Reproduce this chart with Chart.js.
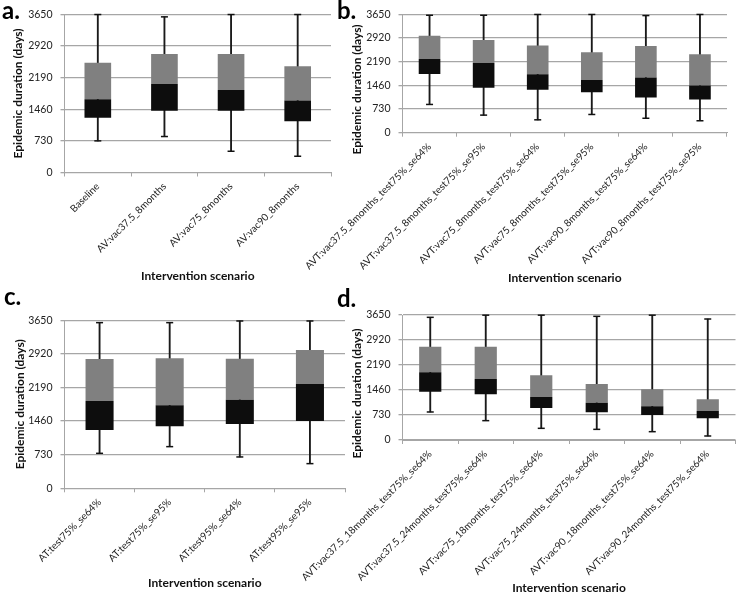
<!DOCTYPE html>
<html>
<head>
<meta charset="utf-8">
<script src="https://cdn.jsdelivr.net/npm/chart.js@4.4.0/dist/chart.umd.min.js"></script>
<style>
  body { margin: 0; background: #fff; }
  #wrap { position: relative; width: 738px; height: 595px; overflow: hidden; }
  canvas { position: absolute; left: 0; top: 0; }
  .letter { position: absolute; font: bold 24px Lato, sans-serif; line-height: 24px; color: #000; }
</style>
</head>
<body>
<div id="wrap">
  <canvas id="chartA" width="738" height="595"></canvas>
  <canvas id="chartB" width="738" height="595"></canvas>
  <canvas id="chartC" width="738" height="595"></canvas>
  <canvas id="chartD" width="738" height="595"></canvas>
  <div class="letter" style="left:2px;top:-2px">a.</div>
  <div class="letter" style="left:337px;top:-2px">b.</div>
  <div class="letter" style="left:4px;top:284px">c.</div>
  <div class="letter" style="left:337px;top:286px">d.</div>
</div>
<script>
// y axis: 0 .. 3650 days in steps of 730
var yMin = 0, yMax = 3650, yStep = 730;
var xTitle = 'Intervention scenario';
var yTitle = 'Epidemic duration (days)';

// panel a
var catsA = ['Baseline', 'AV:vac37.5_8months', 'AV:vac75_8months', 'AV:vac90_8months'];
var minA = [730, 830, 490, 375];
var q1A  = [1263, 1425, 1425, 1182];
var medA = [1689, 2042, 1902, 1660];
var q3A  = [2534, 2732, 2732, 2453];
var maxA = [3645, 3591, 3645, 3645];

// panel b
var catsB = ['AVT:vac37.5_8months_test75%_se64%', 'AVT:vac37.5_8months_test75%_se95%',
  'AVT:vac75_8months_test75%_se64%', 'AVT:vac75_8months_test75%_se95%',
  'AVT:vac90_8months_test75%_se64%', 'AVT:vac90_8months_test75%_se95%'];
var minB = [871, 542, 397, 562, 445, 368];
var q1B  = [1811, 1385, 1326, 1249, 1084, 1026];
var medB = [2275, 2149, 1801, 1627, 1704, 1452];
var q3B  = [2992, 2856, 2692, 2479, 2672, 2420];
var maxB = [3621, 3621, 3645, 3645, 3611, 3645];

// panel c
var catsC = ['AT:test75%_se64%', 'AT:test75%_se95%', 'AT:test95%_se64%', 'AT:test95%_se95%'];
var minC = [760, 905, 681, 536];
var q1C  = [1267, 1347, 1398, 1463];
var medC = [1897, 1803, 1926, 2267];
var q3C  = [2810, 2824, 2817, 3005];
var maxC = [3599, 3599, 3635, 3635];

// panel d
var catsD = ['AVT:vac37.5_18months_test75%_se64%', 'AVT:vac37.5_24months_test75%_se64%',
  'AVT:vac75_18months_test75%_se64%', 'AVT:vac75_24months_test75%_se64%',
  'AVT:vac90_18months_test75%_se64%', 'AVT:vac90_24months_test75%_se64%'];
var minD = [818, 565, 341, 311, 243, 117];
var q1D  = [1411, 1333, 934, 808, 730, 633];
var medD = [1976, 1781, 1256, 1090, 983, 847];
var q3D  = [2725, 2725, 1888, 1635, 1479, 1187];
var maxD = [3582, 3645, 3645, 3611, 3645, 3533];

var gridGray = '#a6a6a6';
var fontFam = 'Lato, "Open Sans", sans-serif';

function pairs(a, b) {
  return a.map(function (v, i) { return [v, b[i]]; });
}

function boxChart(id, cats, lo, q1, med, q3, hi, box) {
  var ctx = document.getElementById(id).getContext('2d');
  return new Chart(ctx, {
    type: 'bar',
    data: {
      labels: cats,
      datasets: [{
          label: 'Q1-median',
          data: pairs(q1, med),
          backgroundColor: '#0d0d0d',
          grouped: false,
          barPercentage: 0.4,
          categoryPercentage: 1,
          order: 0
        },
        {
          label: 'median-Q3',
          data: pairs(med, q3),
          backgroundColor: '#808080',
          grouped: false,
          barPercentage: 0.4,
          categoryPercentage: 1,
          order: 0
        },
        {
          label: 'whisker',
          data: pairs(lo, hi),
          backgroundColor: '#1a1a1a',
          barThickness: 1.2,
          grouped: false,
          order: 3
        },
        {
          type: 'line',
          label: 'max',
          data: hi,
          showLine: false,
          pointStyle: 'line',
          pointRadius: 3.5,
          borderColor: '#111',
          borderWidth: 1.5,
          clip: false,
          order: 1
        },
        {
          type: 'line',
          label: 'min',
          data: lo,
          showLine: false,
          pointStyle: 'line',
          pointRadius: 3.5,
          borderColor: '#111',
          borderWidth: 1.5,
          clip: false,
          order: 1
        }
      ]
    },
    options: {
      responsive: false,
      animation: false,
      events: [],
      layout: {
        autoPadding: false,
        padding: box.pad
      },
      plugins: {
        legend: { display: false },
        tooltip: { enabled: false }
      },
      scales: {
        x: {
          grid: { offset: true, drawOnChartArea: false, color: gridGray, tickLength: 4 },
          border: { color: gridGray },
          ticks: {
            autoSkip: false,
            minRotation: 45,
            maxRotation: 45,
            padding: 4,
            color: '#222',
            font: { family: fontFam, size: 10 }
          },
          title: {
            display: true,
            text: xTitle,
            color: '#111',
            padding: 0,
            font: { family: fontFam, size: 12, weight: 'bold' }
          },
          afterFit: function (s) { s.height = box.xH; }
        },
        y: {
          min: yMin,
          max: yMax,
          grid: { color: gridGray, lineWidth: 1.3, tickLength: 4 },
          border: { color: gridGray },
          ticks: {
            stepSize: yStep,
            padding: 8,
            color: '#222',
            font: { family: fontFam, size: 10.5 },
            callback: function (v) { return String(v); }
          },
          title: {
            display: true,
            text: box.yText,
            color: '#111',
            padding: { top: 3, bottom: 0 },
            font: { family: fontFam, size: 12, weight: 'bold' }
          },
          afterFit: function (s) { s.width = box.yW; }
        }
      }
    }
  });
}

// trailing spaces push the rotated title down, as in panels b and d
var yTitleLow = yTitle + '\u00a0'.repeat(11);

boxChart('chartA', catsA, minA, q1A, medA, q3A, maxA,
  { pad: { left: 8, top: 7, right: 407, bottom: 311.8 }, yW: 56.5, xH: 110.7, yText: yTitle });
boxChart('chartB', catsB, minB, q1B, medB, q3B, maxB,
  { pad: { left: 346.5, top: 7, right: 11, bottom: 309.8 }, yW: 56, xH: 152.5, yText: yTitleLow });
boxChart('chartC', catsC, minC, q1C, medC, q3C, maxC,
  { pad: { left: 9.5, top: 320.3, right: 393, bottom: 4.8 }, yW: 55, xH: 101.9, yText: yTitle });
boxChart('chartD', catsD, minD, q1D, medD, q3D, maxD,
  { pad: { left: 346.5, top: 315, right: 2.5, bottom: 0 }, yW: 56, xH: 155, yText: yTitleLow });
</script>
</body>
</html>
